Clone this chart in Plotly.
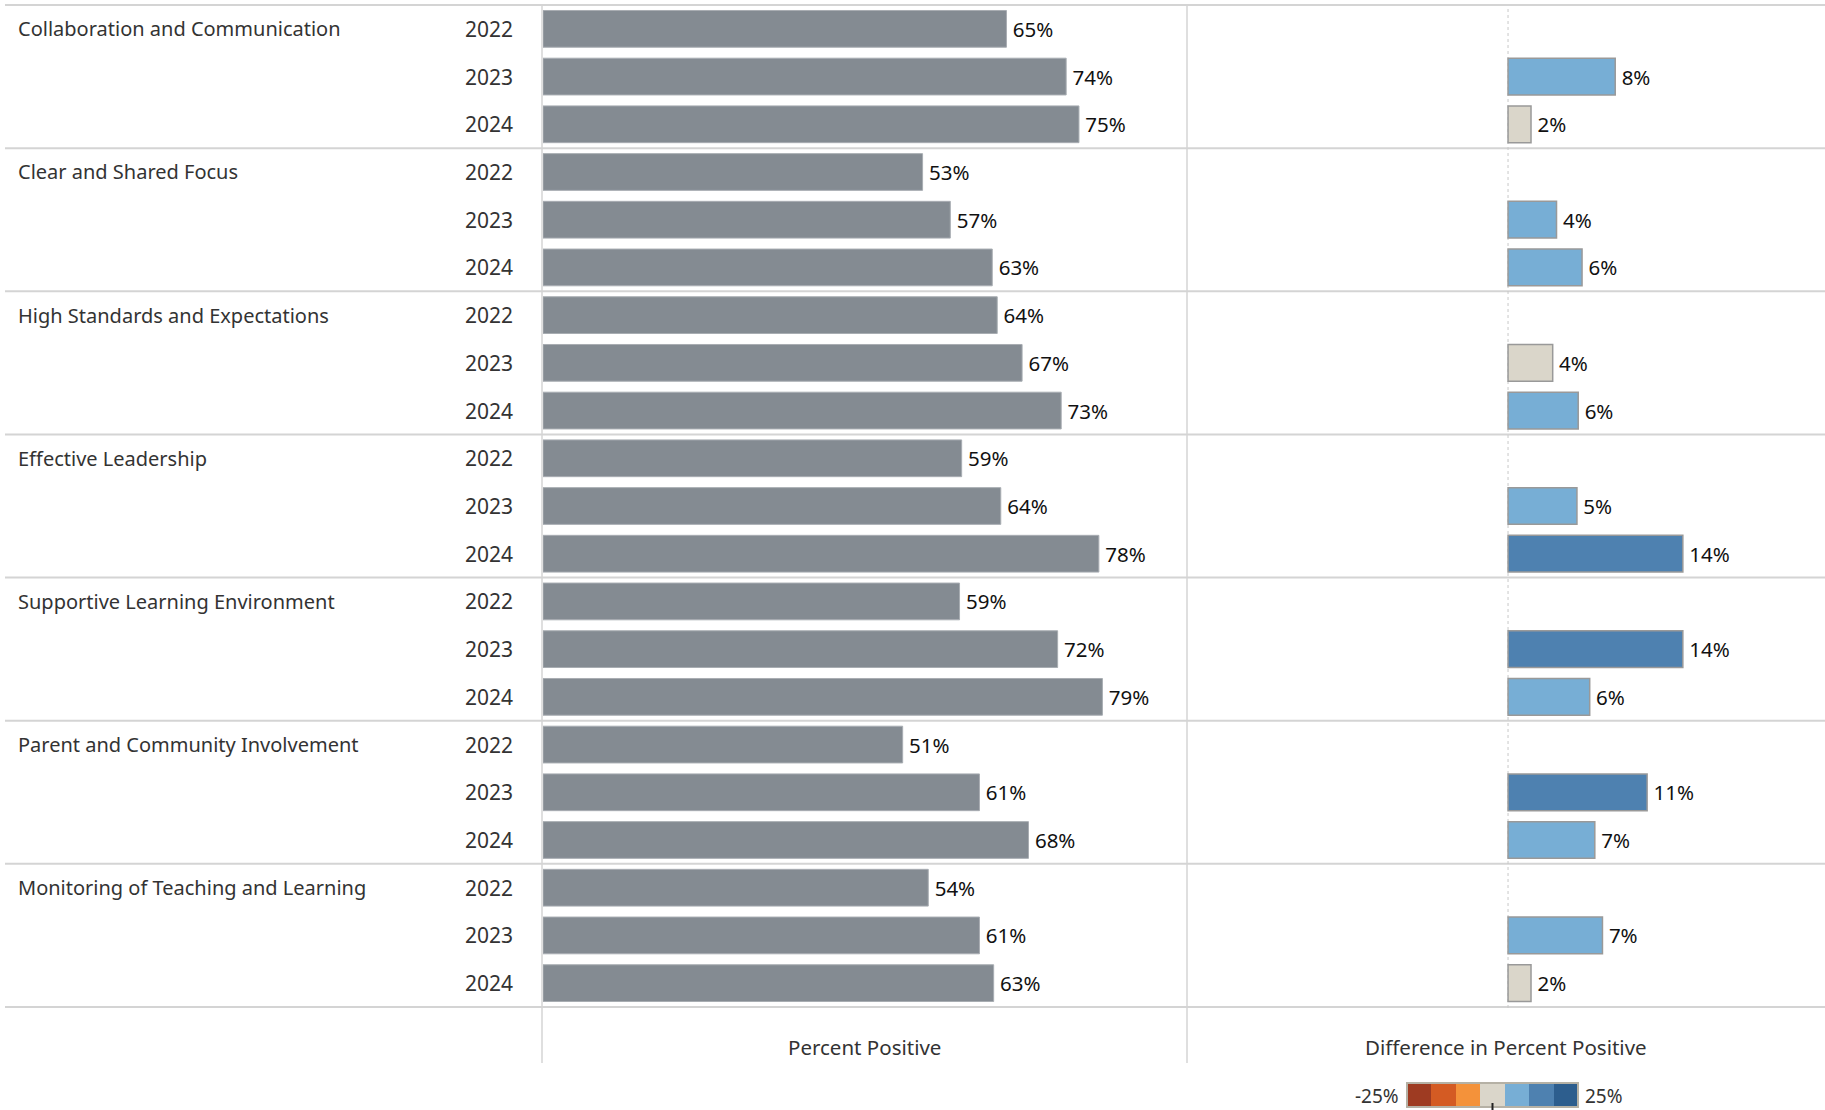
import plotly.graph_objects as go

W, H = 1825, 1110

groups = ["Collaboration and Communication", "Clear and Shared Focus",
          "High Standards and Expectations", "Effective Leadership",
          "Supportive Learning Environment", "Parent and Community Involvement",
          "Monitoring of Teaching and Learning"]
years = ["2022", "2023", "2024"]

percent_positive = [65.2, 73.6, 75.4,
                    53.4, 57.3, 63.2,
                    63.9, 67.4, 72.9,
                    58.9, 64.4, 78.2,
                    58.6, 72.4, 78.7,
                    50.6, 61.4, 68.3,
                    54.2, 61.4, 63.4]
difference = [None, 8.4, 1.8,
              None, 3.8, 5.8,
              None, 3.5, 5.5,
              None, 5.4, 13.7,
              None, 13.7, 6.4,
              None, 10.9, 6.8,
              None, 7.4, 1.8]

legend_colors = ["#9E3B22", "#D45B23", "#F4923A", "#DAD6CA", "#77AED5", "#4E81B0", "#2D5E8E"]
legend_min, legend_max = -25, 25

FONT = "Noto Sans"
TXT = "#333333"

cats = [f"{g}|{y}" for g in groups for y in years]

def px_x(v):
    return v / W

def px_y(v):
    return 1 - v / H

def bin_color(v):
    if v is None:
        return "rgba(0,0,0,0)"
    step = (legend_max - legend_min) / len(legend_colors)
    i = int((v - legend_min) // step)
    i = max(0, min(len(legend_colors) - 1, i))
    return legend_colors[i]

fig = go.Figure()

fig.add_trace(go.Bar(
    y=cats, x=percent_positive, orientation="h", xaxis="x", yaxis="y",
    marker=dict(color="#848B92", line=dict(color="#A8ADB2", width=1)),
    width=0.77,
    texttemplate="\u2009%{x:.0f}%", textposition="outside", cliponaxis=False,
    constraintext="none",
    textfont=dict(family=FONT, size=20.5, color="#111111"),
    hoverinfo="skip",
))

fig.add_trace(go.Bar(
    y=cats, x=difference, orientation="h", xaxis="x2", yaxis="y",
    marker=dict(color=[bin_color(v) for v in difference], line=dict(color="#999999", width=1.5)),
    width=0.77,
    texttemplate="\u2009%{x:.0f}%", textposition="outside", cliponaxis=False,
    constraintext="none",
    textfont=dict(family=FONT, size=20.5, color="#111111"),
    hoverinfo="skip",
))

# legend color strip
fig.add_trace(go.Heatmap(
    z=[list(range(len(legend_colors)))], xaxis="x3", yaxis="y3",
    colorscale=[[i / (len(legend_colors) - 1), c] for i, c in enumerate(legend_colors)],
    zmin=0, zmax=len(legend_colors) - 1, showscale=False, hoverinfo="skip",
))

top, bottom = 5, 1008
fig.update_layout(
    width=W, height=H, margin=dict(l=0, r=0, t=0, b=0),
    paper_bgcolor="white", plot_bgcolor="white", showlegend=False,
    font=dict(family=FONT, color=TXT),
    xaxis=dict(domain=[px_x(543), px_x(1187)], range=[0, 90.6], visible=False, fixedrange=True),
    xaxis2=dict(domain=[px_x(1187), 1.0], range=[-25.16, 24.84], visible=False, fixedrange=True),
    yaxis=dict(domain=[px_y(bottom), px_y(top)], type="category", categoryarray=cats,
               categoryorder="array", autorange="reversed", visible=False, fixedrange=True),
    xaxis3=dict(domain=[px_x(1407), px_x(1578)], visible=False, fixedrange=True),
    yaxis3=dict(domain=[px_y(1107), px_y(1083)], visible=False, fixedrange=True),
)

shapes = []
line_col = "#D4D4D4"
shapes.append(dict(type="line", xref="paper", yref="paper", x0=px_x(5), x1=1,
                   y0=px_y(top), y1=px_y(top), line=dict(color=line_col, width=2)))
for gi in range(len(groups)):
    yb = 3 * gi + 2.5
    shapes.append(dict(type="line", xref="paper", yref="y", x0=px_x(5), x1=1,
                       y0=yb, y1=yb, line=dict(color=line_col, width=2), layer="below"))
for xv in (542, 1187):
    shapes.append(dict(type="line", xref="paper", yref="paper", x0=px_x(xv), x1=px_x(xv),
                       y0=px_y(1063), y1=px_y(top), line=dict(color=line_col, width=1.5), layer="below"))
shapes.append(dict(type="line", xref="x2", yref="paper", x0=0, x1=0,
                   y0=px_y(bottom), y1=px_y(top), line=dict(color="#C8C8C8", width=1, dash="dot"),
                   layer="below"))
shapes.append(dict(type="rect", xref="paper", yref="paper", x0=px_x(1407), x1=px_x(1578),
                   y0=px_y(1107), y1=px_y(1083), line=dict(color="#B5B1A5", width=2)))
shapes.append(dict(type="line", xref="paper", yref="paper", x0=px_x(1492.5), x1=px_x(1492.5),
                   y0=px_y(1110), y1=px_y(1103), line=dict(color="#222222", width=2)))
fig.update_layout(shapes=shapes)

ann = []
for gi, g in enumerate(groups):
    ann.append(dict(xref="paper", yref="y", x=px_x(16), y=f"{g}|{years[0]}", text=g,
                    xanchor="left", yanchor="middle", showarrow=False,
                    font=dict(family=FONT, size=20, color=TXT)))
    for y in years:
        ann.append(dict(xref="paper", yref="y", x=px_x(515), y=f"{g}|{y}", text=y,
                        xanchor="right", yanchor="middle", showarrow=False,
                        font=dict(family=FONT, size=21, color=TXT)))
ann.append(dict(xref="paper", yref="paper", x=px_x(864.5), y=px_y(1047), text="Percent Positive",
                xanchor="center", yanchor="middle", showarrow=False,
                font=dict(family=FONT, size=20.5, color=TXT)))
ann.append(dict(xref="paper", yref="paper", x=px_x(1506), y=px_y(1047), text="Difference in Percent Positive",
                xanchor="center", yanchor="middle", showarrow=False,
                font=dict(family=FONT, size=20.5, color=TXT)))
ann.append(dict(xref="paper", yref="paper", x=px_x(1401), y=px_y(1096), text=f"{legend_min}%",
                xanchor="right", yanchor="middle", showarrow=False,
                font=dict(family=FONT, size=19, color=TXT)))
ann.append(dict(xref="paper", yref="paper", x=px_x(1583), y=px_y(1096), text=f"{legend_max}%",
                xanchor="left", yanchor="middle", showarrow=False,
                font=dict(family=FONT, size=19, color=TXT)))
fig.update_layout(annotations=ann)

fig.write_html("out.html", config={"displayModeBar": False},
               post_script="document.body.style.margin='0';document.body.style.overflow='hidden';")
